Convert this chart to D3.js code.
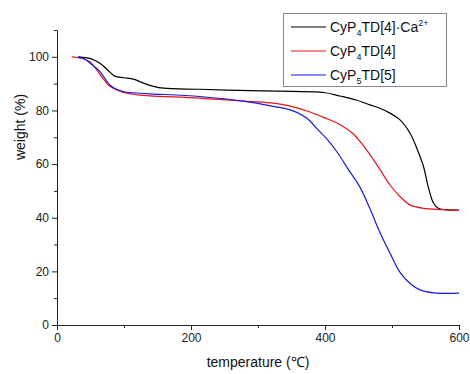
<!DOCTYPE html>
<html><head><meta charset="utf-8">
<script src="https://cdn.jsdelivr.net/npm/d3@7"></script>
<style>body{margin:0;background:#fff}svg{display:block;font-family:"Liberation Sans",Arial,sans-serif}</style>
</head><body><svg id="c" width="470" height="374"></svg>
<script>
const seriesNames = ["CyP4TD[4]·Ca2+", "CyP4TD[4]", "CyP5TD[5]"];
const seriesColors = ["#000000", "#e8141b", "#1818e0"];
const blackT = [32, 50, 64, 76, 86, 100, 114, 129, 144, 159, 213, 288, 350, 398, 422, 445, 467, 482, 497, 512, 527, 537, 547, 554, 562, 569, 580, 600];
const blackW = [100, 99.3, 97.6, 95.0, 92.8, 92.2, 91.7, 90.2, 89.0, 88.3, 87.9, 87.4, 87.1, 86.7, 85.4, 84.0, 82.1, 80.8, 79.0, 76.5, 71.5, 65.9, 59.1, 51.6, 45.4, 43.5, 43.0, 42.8];
const redT = [22, 35, 49, 64, 79, 92, 104, 120, 139, 213, 283, 323, 348, 373, 398, 422, 442, 462, 482, 497, 512, 527, 547, 575, 600];
const redW = [100, 99.5, 98.2, 93.5, 89.0, 87.4, 86.4, 85.8, 85.4, 84.6, 83.4, 82.7, 81.6, 79.8, 77.4, 74.8, 71.3, 65.3, 58.0, 52.2, 47.9, 44.8, 43.5, 43.0, 42.7];
const blueT = [31, 40, 49, 64, 79, 89, 104, 120, 139, 213, 283, 323, 348, 373, 388, 403, 418, 437, 452, 467, 482, 497, 512, 527, 542, 562, 600];
const blueW = [100, 99.4, 97.7, 94.5, 89.5, 87.9, 86.8, 86.5, 86.2, 85.2, 83.3, 81.5, 80.2, 77.1, 73.2, 69.3, 64.5, 57.2, 51.5, 43.4, 34.5, 26.8, 19.6, 15.5, 13.1, 12.0, 11.9];
const xTicks = [0, 200, 400, 600];
const yTicks = [0, 20, 40, 60, 80, 100];

const svg = d3.select("#c");
const x = d3.scaleLinear().domain([0, 600]).range([57, 459]);
const y = d3.scaleLinear().domain([0, 110]).range([325, 30]);

svg.append("g").attr("transform", "translate(0,325)")
  .call(d3.axisBottom(x).tickValues(xTicks).tickSize(5).tickPadding(3).tickSizeOuter(0));
svg.append("g").attr("transform", "translate(0,325)")
  .call(d3.axisBottom(x).tickValues([100, 300, 500]).tickSize(3).tickFormat("").tickSizeOuter(0))
  .select(".domain").remove();
svg.append("g").attr("transform", "translate(57,0)")
  .call(d3.axisLeft(y).tickValues(yTicks).tickSize(5).tickPadding(3).tickSizeOuter(0));
svg.append("g").attr("transform", "translate(57,0)")
  .call(d3.axisLeft(y).tickValues([10, 30, 50, 70, 90, 110]).tickSize(3).tickFormat("").tickSizeOuter(0))
  .select(".domain").remove();
svg.selectAll(".tick text").attr("font-size", 12).attr("fill", "#222").attr("font-family", "Liberation Sans, Arial, sans-serif");
svg.selectAll(".domain, .tick line").attr("stroke", "#222");

svg.append("text").attr("x", 258).attr("y", 367).attr("text-anchor", "middle")
  .attr("font-size", 14).attr("fill", "#111").text("temperature (℃)");
svg.append("text").attr("transform", "translate(25,127) rotate(-90)").attr("text-anchor", "middle")
  .attr("font-size", 14).attr("fill", "#111").text("weight (%)");

const data = [
  blackT.map((t, i) => [t, blackW[i]]),
  redT.map((t, i) => [t, redW[i]]),
  blueT.map((t, i) => [t, blueW[i]])
];
const line = d3.line().x(d => x(d[0])).y(d => y(d[1])).curve(d3.curveCatmullRom.alpha(0.5));
data.forEach((d, i) => {
  svg.append("path").attr("d", line(d)).attr("fill", "none")
    .attr("stroke", seriesColors[i]).attr("stroke-width", 1.2);
});

const lg = svg.append("g");
lg.append("rect").attr("x", 283.5).attr("y", 13.5).attr("width", 163).attr("height", 73)
  .attr("fill", "#fff").attr("stroke", "#888");
const parts = [
  [["CyP", 0, 14], ["4", 4, 9], ["TD[4]·Ca", -4, 14], ["2+", -6, 9]],
  [["CyP", 0, 14], ["4", 4, 9], ["TD[4]", -4, 14]],
  [["CyP", 0, 14], ["5", 4, 9], ["TD[5]", -4, 14]]
];
parts.forEach((p, i) => {
  const yy = 27 + i * 24;
  lg.append("line").attr("x1", 291).attr("x2", 326).attr("y1", yy).attr("y2", yy)
    .attr("stroke", seriesColors[i]).attr("stroke-width", 1.2);
  const t = lg.append("text").attr("x", 330).attr("y", yy + 5).attr("font-size", 14).attr("fill", "#111");
  p.forEach(([s, dy, fs]) => {
    t.append("tspan").text(s).attr("dy", dy).attr("font-size", fs);
  });
});
</script></body></html>
